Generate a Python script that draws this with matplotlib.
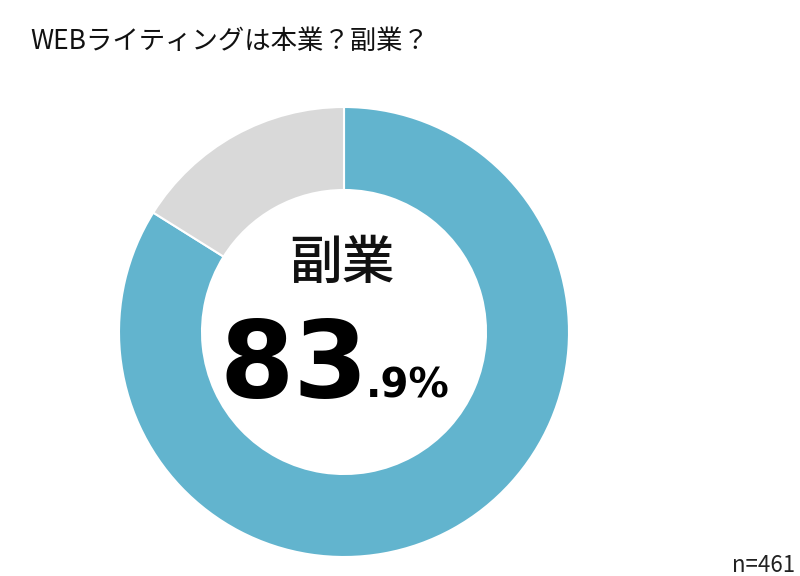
import matplotlib
matplotlib.use("Agg")
import matplotlib.pyplot as plt

plt.rcParams['font.family'] = ['Noto Sans CJK JP', 'DejaVu Sans']

# データ
labels = ['副業', '本業']
values = [83.9, 16.1]
colors = ['#62B4CE', '#D9D9D9']
title = 'WEBライティングは本業？副業？'
n_total = 461

W, H = 800, 576
fig = plt.figure(figsize=(8, 5.76), dpi=100)

def fx(px):
    return px / W

def fy(py):
    return 1 - py / H

# ドーナツ (中心 344,332 / 半径 225px)
cx, cy, box = 344, 332, 230
ax = fig.add_axes([fx(cx - box), fy(cy + box), 2 * box / W, 2 * box / H])
ax.pie(values, colors=colors, startangle=90, counterclock=False,
       radius=225 / box,
       wedgeprops=dict(width=(225 - 142) / box, edgecolor='white', linewidth=1.5))
ax.set_xlim(-1, 1)
ax.set_ylim(-1, 1)
ax.set_aspect('equal')
ax.axis('off')

# タイトル
fig.text(fx(30), fy(41), title, fontsize=19, va='center', ha='left', color='#111111')

# 中央のラベル
fig.text(fx(342), fy(264), labels[0], fontsize=38, ha='center', va='center',
         fontweight='medium', color='#111111')
big, small = f'{values[0]:.1f}'.split('.')
fig.text(fx(368), fy(397), big, fontsize=77, ha='right', va='baseline',
         fontweight='bold', color='black', family='DejaVu Sans')
fig.text(fx(366), fy(397), '.' + small + '%', fontsize=29, ha='left', va='baseline',
         fontweight='bold', color='black', family='DejaVu Sans')

fig.text(fx(795), fy(572), f'n={n_total}', fontsize=16, ha='right', va='baseline',
         color='#222222')

fig.savefig('out.png', dpi=100, facecolor='white')
